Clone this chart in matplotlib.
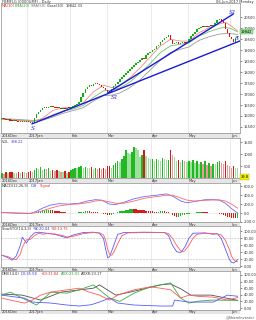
import matplotlib
matplotlib.use("Agg")
import matplotlib.pyplot as plt
from matplotlib.transforms import blended_transform_factory
from matplotlib.patches import Rectangle

# ---- data ----
months = ["2016Dec", "2017Jan", "Feb", "Mar", "Apr", "May", "Jun"]
month_days = [13, 21, 18, 22, 18, 21, 4]

opens = [15880, 15900, 15860, 15820, 15850, 15790, 15760, 15800, 15770, 15740, 15760, 15720, 15750,
         15730, 15710, 15660,
         15700, 15900, 16100, 16200,
         16280, 16350, 16420, 16380, 16400, 16440,
         16400, 16380, 16350, 16370, 16340, 16360, 16330, 16380,
         16350, 16420, 16460, 16520, 16560,
         16620, 16850, 17060,
         17250, 17340, 17400, 17380, 17460, 17480,
         17440, 17420, 17340, 17260,
         17200, 17110,
         17090, 17250, 17380, 17480,
         17570, 17700, 17780, 17880, 17960, 18060, 18150,
         18220, 18330, 18400, 18480,
         18560, 18640, 18620, 18780, 18860, 18930,
         19000, 19080, 19180, 19260, 19360, 19450,
         19550, 19620,
         19680, 19450,
         19270, 19320, 19360, 19300, 19340, 19380, 19330,
         19400, 19520, 19640, 19740, 19850,
         19950, 20020, 20080, 20050, 20100, 20060, 20120, 20090,
         20150, 20250, 20360,
         20420, 20350,
         20240, 19960,
         19780, 19620,
         19500, 19400, 19560]

closes = [15900, 15860, 15820, 15850, 15790, 15760, 15800, 15770, 15740, 15760, 15720, 15750, 15730,
          15710, 15690, 15680,
          15900, 16100, 16200, 16280,
          16350, 16420, 16380, 16400, 16440, 16400,
          16380, 16350, 16370, 16340, 16360, 16330, 16380, 16350,
          16420, 16460, 16520, 16560, 16620,
          16850, 17060, 17250,
          17340, 17400, 17380, 17460, 17480, 17440,
          17420, 17340, 17260, 17200,
          17110, 17090,
          17250, 17380, 17480, 17570,
          17700, 17780, 17880, 17960, 18060, 18150, 18220,
          18330, 18400, 18480, 18560,
          18640, 18620, 18780, 18860, 18930, 19000,
          19080, 19180, 19260, 19360, 19450, 19550,
          19620, 19680,
          19450, 19270,
          19320, 19360, 19300, 19340, 19380, 19330, 19400,
          19520, 19640, 19740, 19850, 19950,
          20020, 20080, 20050, 20100, 20060, 20120, 20090, 20150,
          20250, 20360, 20420,
          20350, 20240,
          19960, 19780,
          19620, 19500,
          19400, 19560, 19650]

volume = [220, 180, 240, 200, 230, 260, 210, 190, 250, 220, 270, 230, 210,
          240, 280, 260, 350, 420, 380, 450, 330, 390, 360, 420, 300, 350, 280, 330, 300, 260, 250, 280, 200, 230,
          320, 380, 420, 400, 460, 480, 430, 470, 420, 400, 450, 380, 420, 360, 400, 380, 420, 360,
          480, 520, 420, 560, 620, 700, 650, 780, 900, 1150, 1050, 980, 1100, 1300, 1250, 1150, 880, 950, 1180,
          900, 820, 780,
          780, 720, 800, 760, 700, 820, 780, 760, 760, 1150, 950, 860, 720, 760, 680, 740, 700, 660,
          720, 680, 760, 620, 700, 580, 650, 600, 700, 560, 640, 520, 600, 580, 680, 720, 640, 600, 700, 560, 480,
          420, 520, 400, 398]

macd_hist = [5, 3, -2, -4, -6, -5, -3, -4, -6, -5, -3, -2, -4,
             -6, -8, -5, 10,
             25, 40, 52, 60, 66, 70, 72, 68, 62,
             55, 46, 38, 30, 22, 16, 10, 6,
             4, 3, 5, 8, 12, 18, 28, 36,
             38, 36, 32, 30, 26, 20,
             10, 0, -15, -30, -45, -50,
             -35, -15, 5, 20, 35, 45, 55,
             65, 75, 85, 90, 88, 84, 78, 72,
             66, 60, 52, 48, 40, 36, 32, 30,
             32, 36, 38, 36, 30, 20,
             -10, -40, -70, -85, -80, -70,
             -55, -40, -28, -18, -8,
             0, 10, 18, 24, 26, 22, 18,
             14, 10, 6, 2, -4, -8, -12,
             -25, -45, -65, -85, -100, -110,
             -118, -120, -105]

line_days = [0, 5, 10, 15, 20, 25, 30, 35, 40, 45, 50, 54, 58, 63, 68, 73, 78, 83, 88, 92, 97, 102, 107, 110, 113, 116]
ma10 = [15850, 15820, 15780, 15740, 15900, 16250, 16380, 16390, 16600, 17100, 17400, 17300, 17380, 17750,
        18200, 18700, 19200, 19500, 19420, 19420, 19800, 20030, 20200, 20280, 20100, 19880]
ema20 = [15850, 15830, 15800, 15770, 15850, 16050, 16220, 16320, 16480, 16850, 17150, 17180, 17280, 17550,
         17950, 18400, 18900, 19200, 19280, 19330, 19650, 19850, 20000, 20050, 19980, 19842]
sma50 = [15880, 15860, 15830, 15800, 15810, 15950, 16120, 16250, 16380, 16680, 16930, 16950, 17050, 17300,
         17650, 18100, 18550, 18900, 19050, 19150, 19450, 19620, 19740, 19760, 19760, 19720]

trend_s_x, trend_s_y = [14.8, 117.0], [15640, 19420]
trend_s1_x, trend_s1_y = [52.2, 113.8], [17064, 20650]

macd_days = [0, 8, 14, 17, 20, 24, 28, 33, 38, 42, 46, 49, 53, 56, 60, 65, 70, 76, 81, 84, 88, 91, 95, 100,
             104, 107, 110, 113, 116]
macd_diff = [10, -5, -10, 40, 110, 180, 210, 200, 220, 270, 300, 290, 200, 190, 240, 320, 370, 400, 430, 380,
             270, 230, 260, 300, 300, 290, 220, 100, 0]
macd_signal = [15, 0, -5, 10, 50, 110, 160, 190, 205, 230, 270, 285, 250, 220, 220, 270, 330, 370, 400, 400,
               340, 290, 270, 285, 295, 295, 270, 200, 110]

stoch_k_days = [0, 3, 5, 7, 9, 10, 12, 14, 16, 18, 22, 26, 30, 32, 35, 40, 45, 48, 50, 51, 52, 53, 55, 57, 60,
                70, 80, 82, 84, 86, 88, 90, 92, 94, 100, 104, 106, 108, 110, 112, 113, 114, 115, 116]
stoch_k = [32, 25, 18, 30, 60, 84, 67, 85, 96, 98, 95, 92, 85, 82, 90, 97, 98, 95, 80, 50, 25, 28, 60, 92, 97,
           98, 97, 88, 60, 42, 40, 55, 80, 95, 96, 92, 94, 80, 50, 20, 12, 10, 14, 20.04]
stoch_d_days = [0, 3, 5, 7, 9, 10, 12, 14, 16, 18, 20, 22, 26, 30, 32, 35, 40, 45, 48, 50, 51, 52, 53, 54, 55,
                57, 59, 62, 70, 80, 82, 84, 86, 88, 89, 90, 92, 94, 96, 100, 104, 106, 108, 110, 112, 113, 114,
                115, 116]
stoch_d = [32, 28, 22, 20, 35, 55, 76, 78, 88, 95, 92, 94, 93, 88, 84, 86, 94, 97, 96, 90, 75, 50, 35, 32, 40,
           65, 88, 96, 97, 97, 94, 80, 60, 45, 42, 45, 60, 80, 92, 95, 94, 93, 90, 75, 48, 30, 20, 15, 13.75]

pdi_days = [0, 4, 11, 15, 19, 24, 32, 38, 43, 48, 53, 57, 65, 73, 78, 83, 88, 92, 97, 104, 111, 116]
pdi = [30, 24, 15, 24, 39, 48, 55, 60, 48, 39, 24, 39, 55, 64, 60, 55, 30, 39, 35, 33, 24, 31.84]
mdi_days = [0, 7, 11, 15, 24, 32, 38, 44, 48, 53, 57, 65, 78, 84, 85, 92, 104, 111, 116]
mdi = [39, 33, 30, 18, 15, 9, 6, 10, 18, 30, 15, 9, 6, 6, 24, 18, 18, 39, 35.58]
adx_days = [0, 4, 12, 17, 24, 32, 38, 45, 53, 58, 65, 73, 83, 88, 92, 97, 104, 116]
adx = [39, 48, 24, 9, 48, 45, 55, 70, 30, 20, 45, 64, 76, 30, 15, 21, 24, 23.01]
adxr_days = [0, 10, 19, 29, 45, 48, 56, 63, 78, 83, 88, 93, 103, 116]
adxr = [42, 39, 24, 48, 60, 70, 39, 48, 70, 73, 58, 39, 39, 23.17]

# ---- layout helpers (pixel based, 256x320) ----
W, H = 256.0, 320.0
N = len(closes)
FS = 2.6
starts = [sum(month_days[:k]) for k in range(len(month_days))]

fig = plt.figure(figsize=(2.56, 3.2), dpi=100)
fig.patch.set_facecolor("white")


def panel(top, bottom, ylim, ticks, fmt):
    ax = fig.add_axes([1 / W, 1 - bottom / H, 239 / W, (bottom - top) / H])
    ax.set_xlim(-0.5, 117.2)
    ax.set_ylim(*ylim)
    ax.yaxis.tick_right()
    ax.set_yticks(ticks)
    ax.set_yticklabels([fmt % t for t in ticks])
    ax.tick_params(axis="y", labelsize=FS, length=1.5, width=0.4, pad=1, colors="#333333")
    ax.set_xticks([])
    for s in ax.spines.values():
        s.set_linewidth(0.5)
        s.set_color("#8c8c8c")
    for s in starts[1:]:
        ax.axvline(s - 0.5, color="#dcdcdc", lw=0.4, zorder=0)
    # date strip under the panel
    fig.add_artist(Rectangle((0, 1 - (bottom + 4.5) / H), 240 / W, 4.5 / H, transform=fig.transFigure,
                             facecolor="#e6e6e6", edgecolor="none", zorder=-1))
    tr = blended_transform_factory(ax.transData, ax.transAxes)
    for s, lab in zip(starts, months):
        ax.annotate(lab, xy=(s - 0.5, 0), xycoords=tr, xytext=(0.8, -0.6), textcoords="offset points",
                    ha="left", va="top", fontsize=FS, color="#333333")
    return ax


def legend(y, parts):
    for x, txt, col in parts:
        fig.text(x / W, 1 - y / H, txt, fontsize=FS, color=col, va="center", ha="left")


days = list(range(N))

# ---- price panel ----
ax = panel(3, 133, (15224, 21158), list(range(15500, 20501, 500)), "%d")
up = [c >= o for o, c in zip(opens, closes)]
ax.bar(days, [max(abs(c - o), 45) for o, c in zip(opens, closes)],
       bottom=[min(o, c) for o, c in zip(opens, closes)], width=0.75,
       color=["#10b010" if u else "#e01010" for u in up], zorder=3)
ax.plot(line_days, sma50, color="#9a9a9a", lw=0.6, zorder=2)
ax.plot(line_days, ema20, color="#6cc46c", lw=0.6, zorder=2)
ax.plot(line_days, ma10, color="#f08888", lw=0.6, zorder=2)
ax.plot(trend_s_x, trend_s_y, color="#1a1ad6", lw=1.0, zorder=4)
ax.plot(trend_s1_x, trend_s1_y, color="#1a1ad6", lw=1.0, zorder=4)
for x, y, t in [(15.3, 15420, "S"), (55.7, 16830, "S1"), (113.8, 20720, "S1"), (115.8, 19520, "S")]:
    ax.text(x, y, t, color="#2a2ad0", fontsize=4.2, family="serif", style="italic", ha="center", va="center",
            zorder=5)
ax.text(1.004, 19842, "19842", transform=blended_transform_factory(ax.transAxes, ax.transData),
        fontsize=FS, va="center", ha="left",
        bbox=dict(boxstyle="square,pad=0.15", fc="#9be39b", ec="#4aa84a", lw=0.3))
fig.text(2 / W, 1 - 1.6 / H, "FBMFLG (0000UMF) - Daily", fontsize=FS, va="center", color="#333333")
fig.text(254 / W, 1 - 1.6 / H, "06-Jun-2017 Monday", fontsize=FS, va="center", ha="right", color="#333333")
legend(6, [(2, "MA(10)", "#e03030"), (15, "EMA(20)", "#2e9e2e"), (31, "SMA(50)", "#707070"),
           (47, "Close(30)", "#333333"), (66, "19842.33", "#333333")])

# ---- volume panel ----
ax = panel(138, 178, (0, 1668), [500, 1000, 1500], "%d")
vcol = []
for i, v in enumerate(volume):
    light = i > 0 and v < volume[i - 1]
    if up[i]:
        vcol.append("#9ee09e" if light else "#22b822")
    else:
        vcol.append("#e79a9a" if light else "#d41c1c")
ax.bar(days, volume, width=0.7, color=vcol, zorder=3)
ax.text(1.004, 40, "39.8", transform=blended_transform_factory(ax.transAxes, ax.transData),
        fontsize=FS, va="center", ha="left",
        bbox=dict(boxstyle="square,pad=0.15", fc="#f2f200", ec="#b0b000", lw=0.3))
legend(142, [(2, "VOL", "#333333"), (11, "398.22", "#3a3ae0")])

# ---- MACD panel ----
ax = panel(183, 222, (-202, 675), [-200, 0, 200, 400, 600], "%.1f")
ax.axhline(0, color="#b0b0b0", lw=0.4, ls=":", zorder=1)
hcol = ["#22b822" if i == 0 or h >= macd_hist[i - 1] else "#d41c1c" for i, h in enumerate(macd_hist)]
ax.bar(days, macd_hist, width=0.7, color=hcol, zorder=2)
ax.plot(macd_days, macd_diff, color="#6a6aff", lw=0.6, zorder=3)
ax.plot(macd_days, macd_signal, color="#ff6a6a", lw=0.6, zorder=3)
legend(186, [(2, "MACD(12,26,9)", "#333333"), (31, "Diff", "#3a3ae0"), (40, "Signal", "#e03030")])

# ---- slow stochastic panel ----
ax = panel(226, 267, (-1.5, 115.7), [0, 20, 40, 60, 80, 100], "%.2f")
ax.axhline(80, color="#b8b8b8", lw=0.4, ls="--", zorder=1)
ax.axhline(20, color="#b8b8b8", lw=0.4, ls="--", zorder=1)
ax.plot(stoch_k_days, stoch_k, color="#5a5aff", lw=0.6, zorder=3)
ax.plot(stoch_d_days, stoch_d, color="#ff5a5a", lw=0.6, zorder=3)
legend(229.5, [(2, "SlowSTO(14,3,3)", "#333333"), (33, "%K:20.04", "#3a3ae0"), (51, "%D:13.75", "#e03030")])

# ---- DMI panel ----
ax = panel(271, 309.5, (-4.5, 112), [0, 20, 40, 60, 80, 100], "%.2f")
ax.plot(adxr_days, adxr, color="#505050", lw=0.6, zorder=3)
ax.plot(adx_days, adx, color="#3cae3c", lw=0.6, zorder=3)
ax.plot(mdi_days, mdi, color="#5a5aff", lw=0.6, zorder=3)
ax.plot(pdi_days, pdi, color="#ff5a5a", lw=0.6, zorder=3)
legend(274, [(2, "DMI(14,0)", "#333333"), (21, "-DI:35.58", "#3a3ae0"), (41, "+DI:31.84", "#e03030"),
             (61, "ADX:23.01", "#2e9e2e"), (81, "ADXR:23.17", "#333333")])

fig.text(255 / W, 1 - 317 / H, "@ShareInvestor", fontsize=FS, ha="right", va="center", color="#555555")

fig.savefig("out.png", dpi=100)
